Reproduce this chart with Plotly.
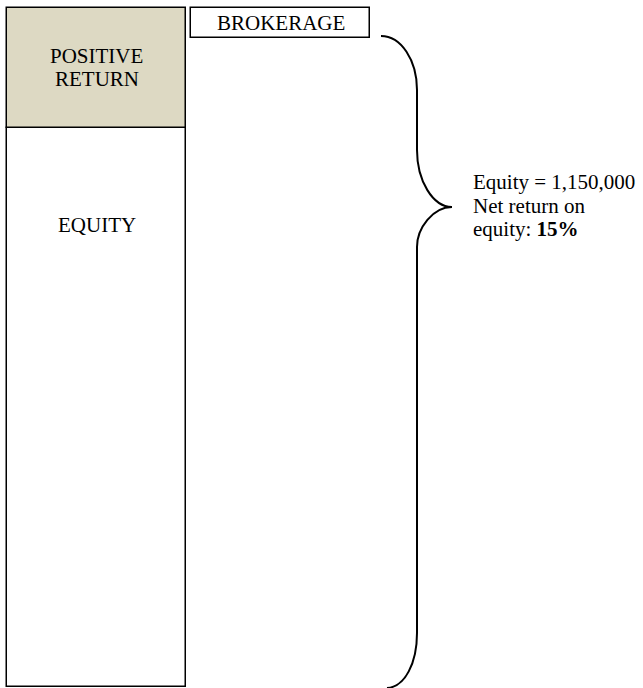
import plotly.graph_objects as go

# ---- data (schematic relative heights) ----
segments = ["EQUITY", "POSITIVE RETURN"]
segment_heights = [559, 120]
segment_colors = ["#FFFFFF", "#DDD9C3"]
segment_labels = [["EQUITY"], ["POSITIVE", "RETURN"]]
brokerage_label = "BROKERAGE"
brokerage_height = [30]
note_lines = ["Equity = 1,150,000", "Net return on", "equity: <b>15%</b>"]

W, H = 643, 688
FONT = "Liberation Serif, Times New Roman, serif"

fig = go.Figure()

# stacked column
col_x, col_w = 96.5, 179
base = 1
bases = []
for name, h, c in zip(segments, segment_heights, segment_colors):
    bases.append(base)
    fig.add_trace(go.Bar(
        x=[col_x], y=[h], base=[base], width=[col_w], name=name,
        marker=dict(color=c, line=dict(color="black", width=1.5)),
        hoverinfo="skip", showlegend=False))
    base += h
top = base

# brokerage box
bro_x, bro_w = 280.5, 179
fig.add_trace(go.Bar(
    x=[bro_x], y=brokerage_height, base=[top - brokerage_height[0]], width=[bro_w],
    marker=dict(color="white", line=dict(color="black", width=1.5)),
    hoverinfo="skip", showlegend=False))

# labels
ann = []
pr_center = bases[1] + segment_heights[1] / 2
for i, t in enumerate(segment_labels[1]):
    ann.append(dict(x=col_x, y=pr_center + 12 - i * 23, text=t, showarrow=False,
                    xanchor="center", yanchor="middle"))
ann.append(dict(x=col_x, y=463, text=segment_labels[0][0], showarrow=False,
                xanchor="center", yanchor="middle"))
ann.append(dict(x=bro_x, y=top - brokerage_height[0] / 2, text=brokerage_label,
                showarrow=False, xanchor="center", yanchor="middle"))
for i, t in enumerate(note_lines):
    ann.append(dict(x=471, y=506 - i * 23.5, text=t, showarrow=False,
                    xanchor="left", yanchor="middle", align="left"))
for a in ann:
    a["font"] = dict(family=FONT, size=21, color="black")

# curly brace
brace = ("M 381 652 C 401 652 417 628 417 598 L 417 538 "
         "C 417 507 433 481 452 481 C 433 481 417 460 417 441 "
         "L 417 55 C 417 25 405 1 387 0")
shapes = [dict(type="path", path=brace, xref="x", yref="y",
               line=dict(color="black", width=2))]

fig.update_layout(
    width=W, height=H, margin=dict(l=0, r=0, t=0, b=0),
    paper_bgcolor="white", plot_bgcolor="white",
    barmode="overlay", bargap=0,
    xaxis=dict(range=[0, W], visible=False, fixedrange=True),
    yaxis=dict(range=[0, H], visible=False, fixedrange=True),
    annotations=ann, shapes=shapes,
)

fig.write_html("out.html", config={"displayModeBar": False},
               post_script="document.body.style.margin='0';")
